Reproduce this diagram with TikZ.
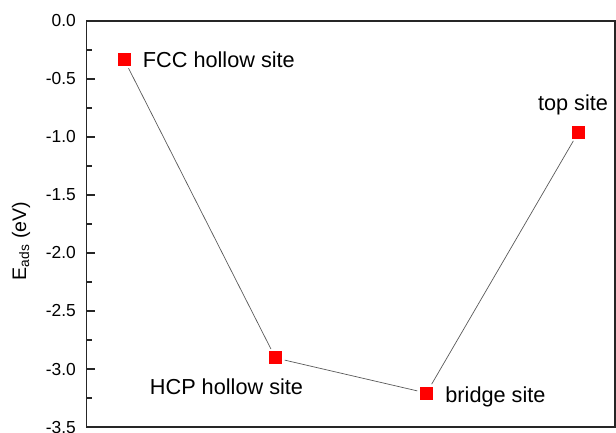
\documentclass[tikz,border=0pt]{standalone}
\usepackage{fontspec}
\setmainfont{Liberation Sans}
\usetikzlibrary{positioning}
\begin{document}
\begin{tikzpicture}[x=1bp, y=1bp,
    site/.style={fill=red, minimum size=13bp, inner sep=0pt},
    link/.style={draw=black!65, line width=0.7bp, shorten <=2.5bp, shorten >=2.5bp},
    sitelabel/.style={inner sep=0pt, font=\fontsize{21.7bp}{26bp}\selectfont},
    ticklabel/.style={anchor=east, inner sep=0pt, font=\fontsize{17.4bp}{21bp}\selectfont},
    frame/.style={line width=1.2bp, draw=black!85}]
    \useasboundingbox (0,0) rectangle (616,432);

    % Axis label
    \node[rotate=90, font=\fontsize{19.6bp}{24bp}\selectfont] (ylabel) at (21,191) {E\textsubscript{ads} (eV)};

    \begin{scope}[shift={(0,411)}, y=116bp]
        % Frame
        \draw[frame] (86.5,0) rectangle (615,-3.5);

        % Ticks and tick labels
        \foreach \v in {0.0,-0.5,-1.0,-1.5,-2.0,-2.5,-3.0,-3.5} {
            \draw[frame] (86.5,\v) -- (95,\v);
            \node[ticklabel] at (76,\v) {\v};
        }
        \foreach \v in {-0.25,-0.75,-1.25,-1.75,-2.25,-2.75,-3.25} {
            \draw[frame] (86.5,\v) -- (91.5,\v);
        }

        % Adsorption sites
        \node[site] (fcc) at (124,-0.33) {};
        \node[site] (hcp) at (275.5,-2.905) {};
        \node[site] (bridge) at (426.5,-3.207) {};
        \node[site] (top) at (578.5,-0.957) {};

        % Connecting line
        \draw[link] (fcc) -- (hcp);
        \draw[link] (hcp) -- (bridge);
        \draw[link] (bridge) -- (top);

        % Site labels
        \node[sitelabel, right=12bp of fcc] (fcclabel) {FCC hollow site};
        \node[sitelabel, below=14bp of hcp, xshift=-49bp] (hcplabel) {HCP hollow site};
        \node[sitelabel, right=12bp of bridge, yshift=-4bp] (bridgelabel) {bridge site};
        \node[sitelabel, above=10bp of top, xshift=-5.5bp] (toplabel) {top site};
    \end{scope}
\end{tikzpicture}
\end{document}
